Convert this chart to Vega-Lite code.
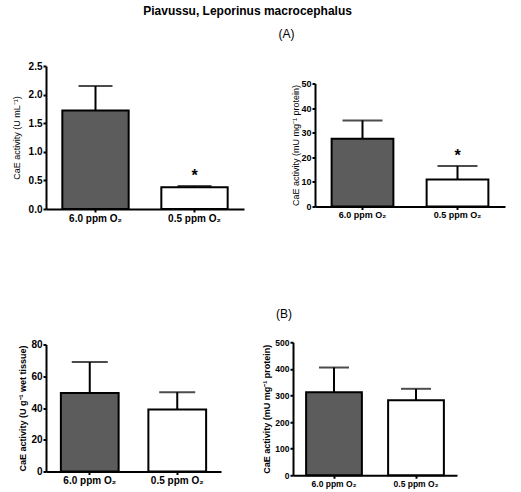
{
  "$schema": "https://vega.github.io/schema/vega-lite/v6.json",
  "description": "CaE activity of Piavussu under normoxia and hypoxia, panels A and B",
  "background": "white",
  "padding": {"left": 12, "top": 5, "right": 5, "bottom": 5},
  "title": {"text": "Piavussu, Leporinus macrocephalus", "fontSize": 12, "fontWeight": "bold", "anchor": "middle", "dx": -11, "offset": 10, "color": "black"},
  "data": {
    "values": [
      {"panel": "A1", "group": "6.0 ppm O₂", "mean": 1.72, "upper": 2.15, "star": ""},
      {"panel": "A1", "group": "0.5 ppm O₂", "mean": 0.38, "upper": 0.4, "star": "*"},
      {"panel": "A2", "group": "6.0 ppm O₂", "mean": 27.5, "upper": 35, "star": ""},
      {"panel": "A2", "group": "0.5 ppm O₂", "mean": 11, "upper": 16.5, "star": "*"},
      {"panel": "B1", "group": "6.0 ppm O₂", "mean": 49.5, "upper": 69, "star": ""},
      {"panel": "B1", "group": "0.5 ppm O₂", "mean": 39, "upper": 50, "star": ""},
      {"panel": "B2", "group": "6.0 ppm O₂", "mean": 312, "upper": 405, "star": ""},
      {"panel": "B2", "group": "0.5 ppm O₂", "mean": 282, "upper": 325, "star": ""}
    ]
  },
  "spacing": 71,
  "vconcat": [
    {
      "title": {"text": "(A)", "fontSize": 12, "fontWeight": "normal", "anchor": "middle", "dx": 28, "offset": 20},
      "spacing": 47,
      "center": true,
      "hconcat": [
        {
          "width": 198, "height": 143,
          "transform": [{"filter": "datum.panel === 'A1'"}],
          "encoding": {
            "x": {"field": "group", "type": "nominal", "sort": ["6.0 ppm O₂", "0.5 ppm O₂"], "scale": {"paddingInner": 0.33, "paddingOuter": 0.165}, "axis": {"title": " ", "titlePadding": 5, "labelAngle": 0, "labelFontSize": 10}}
          },
          "layer": [
            {
              "mark": {"type": "bar", "stroke": "black", "strokeWidth": 2},
              "encoding": {
                "y": {"field": "mean", "type": "quantitative", "scale": {"domain": [0, 2.5], "nice": false}, "axis": {"title": "CaE activity (U mL⁻¹)", "values": [0, 0.5, 1, 1.5, 2, 2.5], "format": ".1f", "labelOverlap": false, "titlePadding": 7, "titleFontWeight": "normal", "labelFontSize": 10}},
                "fill": {"field": "group", "type": "nominal", "scale": {"domain": ["6.0 ppm O₂", "0.5 ppm O₂"], "range": ["#5c5c5c", "#ffffff"]}, "legend": null}
              }
            },
            {"mark": {"type": "rule", "strokeWidth": 2, "color": "black"}, "encoding": {"y": {"field": "mean", "type": "quantitative", "axis": {"title": "CaE activity (U mL⁻¹)", "values": [0, 0.5, 1, 1.5, 2, 2.5], "format": ".1f", "labelOverlap": false, "titlePadding": 7, "titleFontWeight": "normal", "labelFontSize": 10}}, "y2": {"field": "upper"}}},
            {"mark": {"type": "tick", "orient": "horizontal", "thickness": 2, "size": 34, "color": "black"}, "encoding": {"y": {"field": "upper", "type": "quantitative", "axis": {"title": "CaE activity (U mL⁻¹)", "values": [0, 0.5, 1, 1.5, 2, 2.5], "format": ".1f", "labelOverlap": false, "titlePadding": 7, "titleFontWeight": "normal", "labelFontSize": 10}}}},
            {"mark": {"type": "text", "baseline": "bottom", "dy": -2, "fontSize": 16, "fontWeight": "bold"}, "encoding": {"y": {"field": "upper", "type": "quantitative", "axis": {"title": "CaE activity (U mL⁻¹)", "values": [0, 0.5, 1, 1.5, 2, 2.5], "format": ".1f", "labelOverlap": false, "titlePadding": 7, "titleFontWeight": "normal", "labelFontSize": 10}}, "text": {"field": "star"}}}
          ]
        },
        {
          "width": 190, "height": 123,
          "transform": [{"filter": "datum.panel === 'A2'"}],
          "encoding": {
            "x": {"field": "group", "type": "nominal", "sort": ["6.0 ppm O₂", "0.5 ppm O₂"], "scale": {"paddingInner": 0.35, "paddingOuter": 0.175}, "axis": {"title": null, "labelAngle": 0}}
          },
          "layer": [
            {
              "mark": {"type": "bar", "stroke": "black", "strokeWidth": 2},
              "encoding": {
                "y": {"field": "mean", "type": "quantitative", "scale": {"domain": [0, 50], "nice": false}, "axis": {"title": "CaE activity (mU mg⁻¹ protein)", "values": [0, 10, 20, 30, 40, 50], "labelOverlap": false, "titlePadding": 0, "titleFontWeight": "normal"}},
                "fill": {"field": "group", "type": "nominal", "scale": {"domain": ["6.0 ppm O₂", "0.5 ppm O₂"], "range": ["#5c5c5c", "#ffffff"]}, "legend": null}
              }
            },
            {"mark": {"type": "rule", "strokeWidth": 2, "color": "black"}, "encoding": {"y": {"field": "mean", "type": "quantitative", "axis": {"title": "CaE activity (mU mg⁻¹ protein)", "values": [0, 10, 20, 30, 40, 50], "labelOverlap": false, "titlePadding": 0, "titleFontWeight": "normal"}}, "y2": {"field": "upper"}}},
            {"mark": {"type": "tick", "orient": "horizontal", "thickness": 2, "size": 40, "color": "black"}, "encoding": {"y": {"field": "upper", "type": "quantitative", "axis": {"title": "CaE activity (mU mg⁻¹ protein)", "values": [0, 10, 20, 30, 40, 50], "labelOverlap": false, "titlePadding": 0, "titleFontWeight": "normal"}}}},
            {"mark": {"type": "text", "baseline": "bottom", "dy": -2, "fontSize": 16, "fontWeight": "bold"}, "encoding": {"y": {"field": "upper", "type": "quantitative", "axis": {"title": "CaE activity (mU mg⁻¹ protein)", "values": [0, 10, 20, 30, 40, 50], "labelOverlap": false, "titlePadding": 0, "titleFontWeight": "normal"}}, "text": {"field": "star"}}}
          ]
        }
      ]
    },
    {
      "title": {"text": "(B)", "fontSize": 12, "fontWeight": "normal", "anchor": "middle", "dx": 46, "offset": 17},
      "spacing": 41,
      "center": true,
      "hconcat": [
        {
          "width": 175, "height": 127,
          "transform": [{"filter": "datum.panel === 'B1'"}],
          "encoding": {
            "x": {"field": "group", "type": "nominal", "sort": ["6.0 ppm O₂", "0.5 ppm O₂"], "scale": {"paddingInner": 0.34, "paddingOuter": 0.17}, "axis": {"title": null, "labelAngle": 0, "labelFontSize": 10}}
          },
          "layer": [
            {
              "mark": {"type": "bar", "stroke": "black", "strokeWidth": 2},
              "encoding": {
                "y": {"field": "mean", "type": "quantitative", "scale": {"domain": [0, 80], "nice": false}, "axis": {"title": "CaE activity (U g⁻¹ wet tissue)", "values": [0, 20, 40, 60, 80], "labelOverlap": false, "titlePadding": 3, "labelFontSize": 10}},
                "fill": {"field": "group", "type": "nominal", "scale": {"domain": ["6.0 ppm O₂", "0.5 ppm O₂"], "range": ["#5c5c5c", "#ffffff"]}, "legend": null}
              }
            },
            {"mark": {"type": "rule", "strokeWidth": 2, "color": "black"}, "encoding": {"y": {"field": "mean", "type": "quantitative", "axis": {"title": "CaE activity (U g⁻¹ wet tissue)", "values": [0, 20, 40, 60, 80], "labelOverlap": false, "titlePadding": 3, "labelFontSize": 10}}, "y2": {"field": "upper"}}},
            {"mark": {"type": "tick", "orient": "horizontal", "thickness": 2, "size": 36, "color": "black"}, "encoding": {"y": {"field": "upper", "type": "quantitative", "axis": {"title": "CaE activity (U g⁻¹ wet tissue)", "values": [0, 20, 40, 60, 80], "labelOverlap": false, "titlePadding": 3, "labelFontSize": 10}}}}
          ]
        },
        {
          "width": 164, "height": 133,
          "transform": [{"filter": "datum.panel === 'B2'"}],
          "encoding": {
            "x": {"field": "group", "type": "nominal", "sort": ["6.0 ppm O₂", "0.5 ppm O₂"], "scale": {"paddingInner": 0.32, "paddingOuter": 0.16}, "axis": {"title": null, "labelAngle": 0, "labelFontSize": 8.5}}
          },
          "layer": [
            {
              "mark": {"type": "bar", "stroke": "black", "strokeWidth": 2},
              "encoding": {
                "y": {"field": "mean", "type": "quantitative", "scale": {"domain": [0, 500], "nice": false}, "axis": {"title": "CaE activity (mU mg⁻¹ protein)", "values": [0, 100, 200, 300, 400, 500], "labelOverlap": false, "titlePadding": 3, "labelFontSize": 8.5}},
                "fill": {"field": "group", "type": "nominal", "scale": {"domain": ["6.0 ppm O₂", "0.5 ppm O₂"], "range": ["#5c5c5c", "#ffffff"]}, "legend": null}
              }
            },
            {"mark": {"type": "rule", "strokeWidth": 2, "color": "black"}, "encoding": {"y": {"field": "mean", "type": "quantitative", "axis": {"title": "CaE activity (mU mg⁻¹ protein)", "values": [0, 100, 200, 300, 400, 500], "labelOverlap": false, "titlePadding": 3, "labelFontSize": 8.5}}, "y2": {"field": "upper"}}},
            {"mark": {"type": "tick", "orient": "horizontal", "thickness": 2, "size": 30, "color": "black"}, "encoding": {"y": {"field": "upper", "type": "quantitative", "axis": {"title": "CaE activity (mU mg⁻¹ protein)", "values": [0, 100, 200, 300, 400, 500], "labelOverlap": false, "titlePadding": 3, "labelFontSize": 8.5}}}}
          ]
        }
      ]
    }
  ],
  "config": {
    "font": "Liberation Sans",
    "view": {"stroke": null},
    "title": {"color": "black", "font": "Liberation Sans"},
    "axis": {
      "grid": false,
      "labelOverlap": false,
      "domainColor": "black",
      "domainWidth": 2,
      "tickColor": "black",
      "tickWidth": 2,
      "tickSize": 3,
      "labelPadding": 1,
      "labelColor": "black",
      "labelFont": "Liberation Sans",
      "labelFontSize": 9,
      "labelFontWeight": "bold",
      "titleColor": "black",
      "titleFont": "Liberation Sans",
      "titleFontSize": 9,
      "titleFontWeight": "bold"
    }
  }
}
